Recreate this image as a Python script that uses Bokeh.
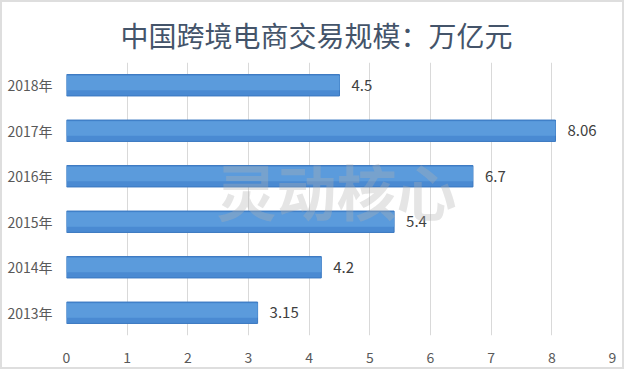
from bokeh.plotting import figure
from bokeh.models import ColumnDataSource, LabelSet, Label, FixedTicker
from bokeh.transform import dodge
from bokeh.core.properties import value
from bokeh.embed import file_html
from bokeh.resources import INLINE

years = ["2013年", "2014年", "2015年", "2016年", "2017年", "2018年"]
amounts = [3.15, 4.2, 5.4, 6.7, 8.06, 4.5]
value_labels = ["3.15", "4.2", "5.4", "6.7", "8.06", "4.5"]
x_ticks = [0, 1, 2, 3, 4, 5, 6, 7, 8, 9]
title_text = "中国跨境电商交易规模：万亿元"
watermark = "灵动核心"

src = ColumnDataSource(dict(year=years, amount=amounts, lab=value_labels))

FONT = "Noto Sans CJK SC"
p = figure(width=624, height=369, y_range=years, x_range=(0, 9),
           output_backend="svg", toolbar_location=None,
           min_border_left=64, min_border_right=14, min_border_top=60, min_border_bottom=36)
p.styles = {"border": "2px solid #dedede", "box-sizing": "border-box"}

p.title.text = title_text
p.title.align = "left"
p.title.text_font = FONT
p.title.text_font_size = "28px"
p.title.text_font_style = "normal"
p.title.text_color = "#44546A"
p.title.offset = 54
p.title.standoff = 16

p.outline_line_color = None
p.ygrid.grid_line_color = None
p.xgrid.grid_line_color = "#d9d9d9"
p.xgrid.grid_line_width = 1
p.xaxis.ticker = FixedTicker(ticks=x_ticks)
for ax in (p.xaxis, p.yaxis):
    ax.axis_line_color = None
    ax.major_tick_line_color = None
    ax.minor_tick_line_color = None
    ax.major_label_text_color = "#595959"
    ax.major_label_text_font = FONT
    ax.major_label_text_font_size = "14px"
p.xaxis.major_label_standoff = 10
p.yaxis.major_label_standoff = 8
p.y_range.range_padding = 0

p.hbar(y="year", right="amount", left=0, height=0.47, source=src,
       fill_color="#4A8AD2", line_color="#3A78C0", line_width=1)
p.hbar(y=dodge("year", 0.05, range=p.y_range), right="amount", left=0, height=0.32,
       source=src, fill_color="#5B9BDC", line_color=None)

p.add_layout(LabelSet(x="amount", y="year", text="lab", source=src,
                      x_offset=12, text_baseline="middle",
                      text_font=value(FONT), text_font_size="15px", text_color="#404040"))

p.add_layout(Label(x=4.45, y=3.2, text=watermark, text_align="center", text_baseline="middle",
                   text_font=FONT, text_font_style="bold", text_font_size="60px",
                   text_color="#b0b0b0", text_alpha=0.33))

open("out.html", "w").write(file_html(p, INLINE))
